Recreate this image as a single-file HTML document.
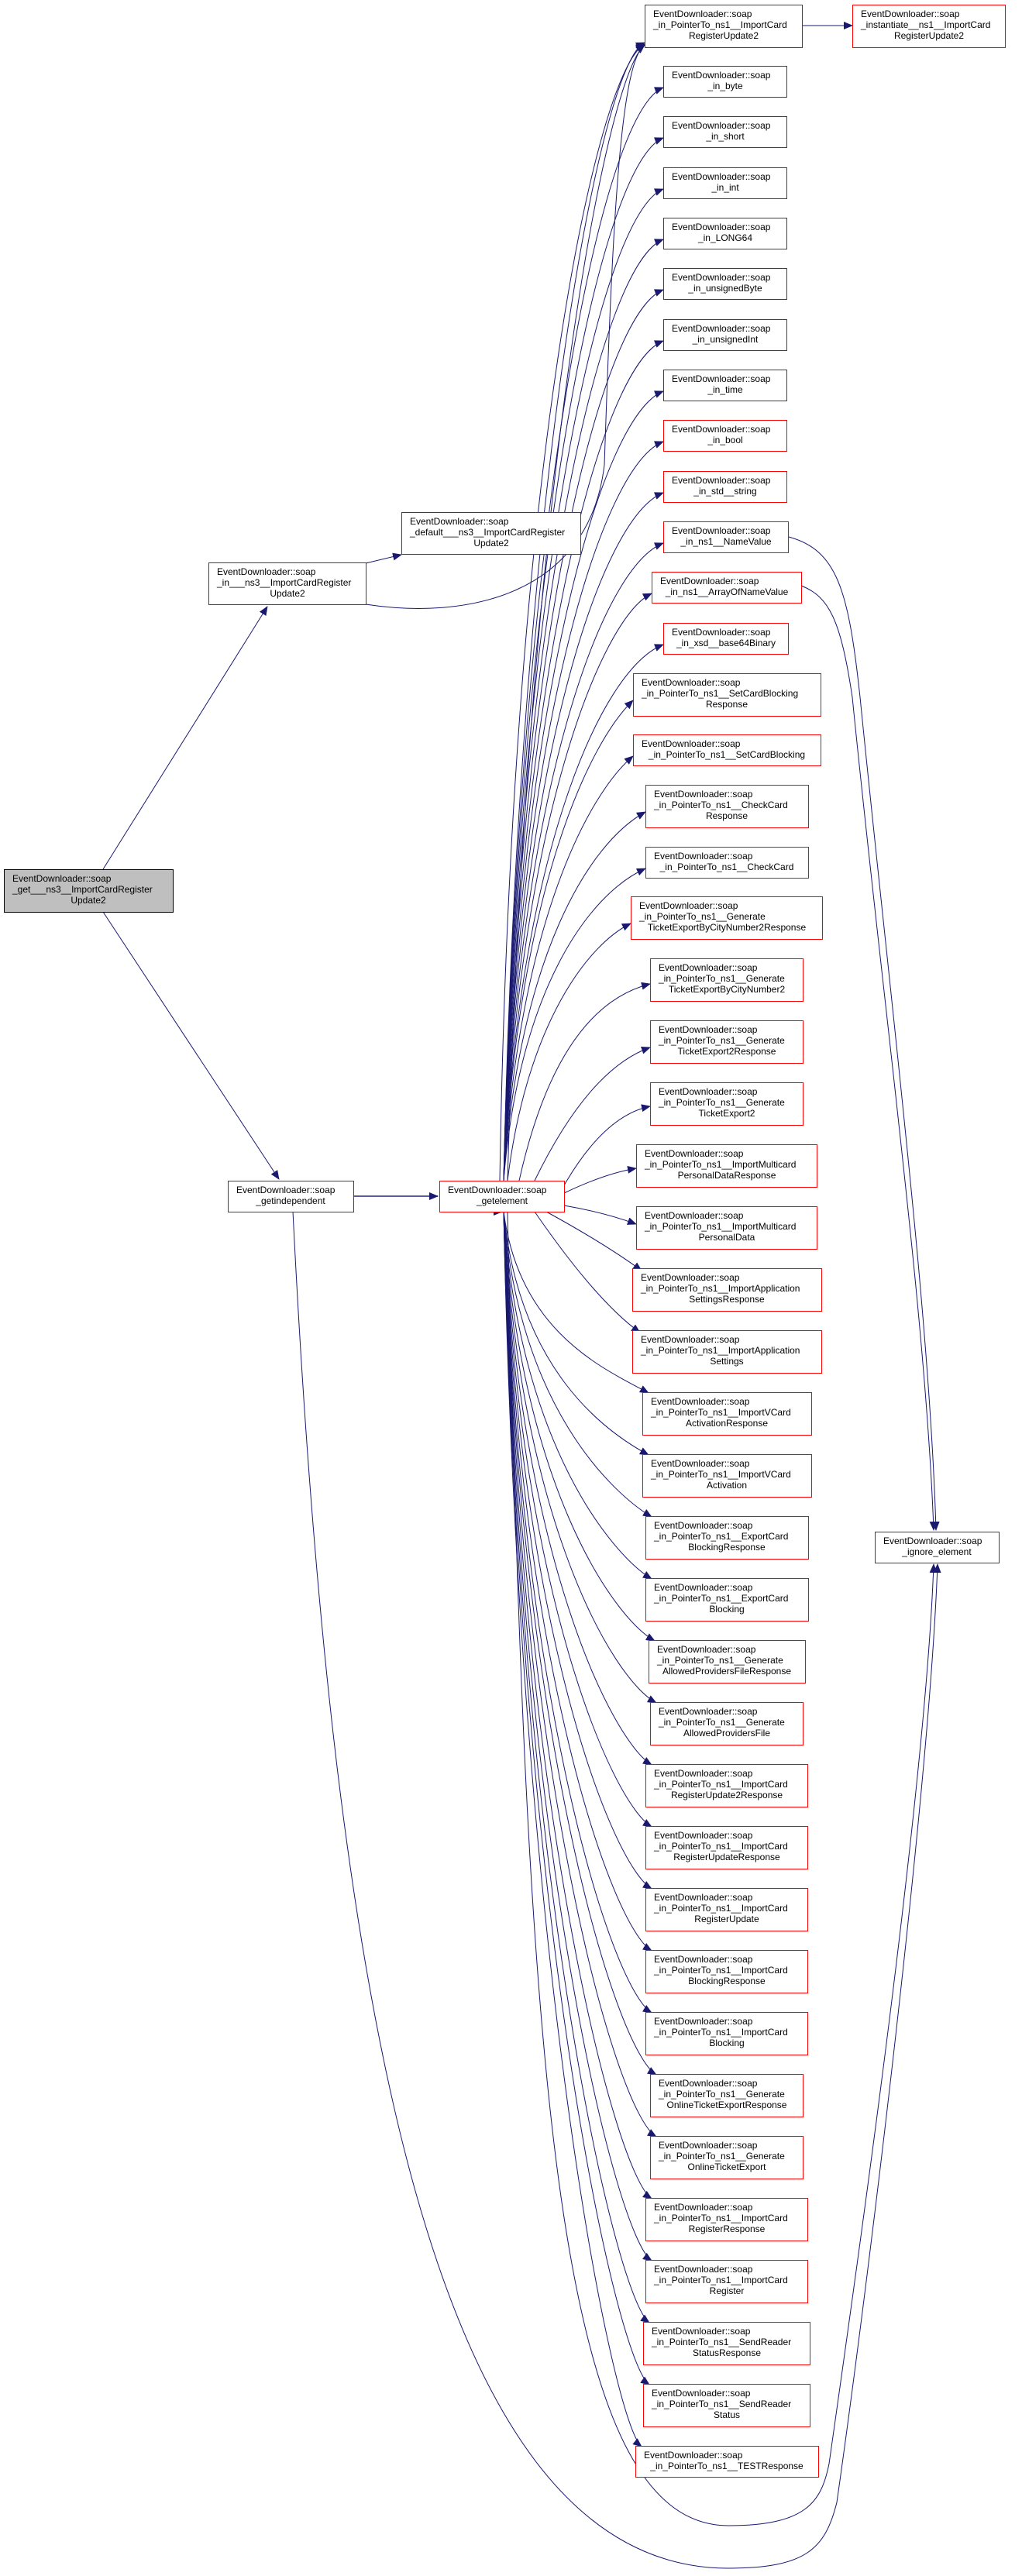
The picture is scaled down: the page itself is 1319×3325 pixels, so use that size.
<!DOCTYPE html>
<html><head><meta charset="utf-8"><style>
html,body{margin:0;padding:0;background:#fff;}
svg{display:block;}
text{font-family:"Liberation Sans",sans-serif;font-size:12px;fill:#000;}
.m{text-anchor:middle;}
.b{fill:#fff;stroke:#404040;stroke-width:1;}
.r{fill:#fff;stroke:#ff0000;stroke-width:1;}
.e{fill:none;stroke:#191970;stroke-width:1;marker-end:url(#a);}
.n{fill:none;stroke:#191970;stroke-width:1;}
</style></head><body>
<svg width="1319" height="3325" viewBox="0 0 1319 3325" xmlns="http://www.w3.org/2000/svg">
<defs><marker id="a" markerWidth="12" markerHeight="10" refX="11" refY="5" orient="auto" markerUnits="userSpaceOnUse"><path d="M0,0 L12,5 L0,10z" fill="#191970"/></marker></defs>

<!-- edges -->
<path class="e" d="M133,1122 L345,783"/>
<path class="e" d="M133,1177 L360,1522"/>
<path class="e" d="M472,727 L518,716"/>
<path class="e" d="M472,780 C600,800 760,770 780,600 C790,300 800,80 832,58"/>
<path d="M456,1544 L565,1544" fill="none" stroke="#5a5a9e" stroke-width="2" marker-end="url(#a)"/>
<path class="e" d="M1035,33 L1100,33"/>

<path class="e" d="M650,1524 C670,629 775,80 832,55"/>
<path class="e" d="M645,1524 C660,600 770,90 832,57"/>
<path class="e" d="M655,1524 C680,650 780,100 832,58"/>
<path class="e" d="M650,1524 C670,672 775,145 856,113"/>
<path class="e" d="M650,1524 C670,712 775,210 856,178"/>
<path class="e" d="M650,1524 C670,751 775,276 856,244"/>
<path class="e" d="M650,1524 C670,790 775,341 856,309"/>
<path class="e" d="M650,1524 C670,829 775,406 856,374"/>
<path class="e" d="M650,1524 C670,869 775,472 856,440"/>
<path class="e" d="M650,1524 C670,908 775,537 856,505"/>
<path class="e" d="M650,1524 C670,947 775,602 856,570"/>
<path class="e" d="M650,1524 C670,986 775,668 856,636"/>
<path class="e" d="M650,1524 C670,1025 775,733 856,701"/>
<path class="e" d="M650,1524 C670,1064 775,798 841,766"/>
<path class="e" d="M650,1524 C670,1104 775,864 856,832"/>
<path class="e" d="M650,1524 C670,1147 760,959 817,904"/>
<path class="e" d="M650,1524 C670,1190 760,1024 817,976"/>
<path class="e" d="M650,1524 C670,1234 760,1088 833,1048"/>
<path class="e" d="M650,1524 C670,1277 760,1154 833,1121"/>
<path class="e" d="M655,1524 C680,1320 760,1218 814,1192"/>
<path class="e" d="M670,1524 Q720,1300 839,1270"/>
<path class="e" d="M690,1524 Q760,1380 839,1352"/>
<path class="e" d="M728,1530 Q780,1440 839,1428"/>
<path class="e" d="M728,1540 Q780,1515 821,1508"/>
<path class="e" d="M728,1556 Q780,1565 821,1580"/>
<path class="e" d="M705,1564 Q780,1605 828,1640"/>
<path class="e" d="M690,1564 Q770,1680 826,1720"/>
<path class="e" d="M650,1564 C670,1720 780,1767 837,1798"/>
<path class="e" d="M650,1564 C670,1768 780,1847 837,1878"/>
<path class="e" d="M650,1564 C670,1816 790,1927 841,1958"/>
<path class="e" d="M650,1564 C670,1864 790,2007 841,2038"/>
<path class="e" d="M650,1564 C670,1912 790,2087 845,2118"/>
<path class="e" d="M650,1564 C670,1960 790,2167 847,2198"/>
<path class="e" d="M650,1564 C670,2008 790,2247 841,2278"/>
<path class="e" d="M650,1564 C670,2056 790,2327 841,2358"/>
<path class="e" d="M650,1564 C670,2104 790,2407 841,2438"/>
<path class="e" d="M650,1564 C670,2152 790,2487 841,2518"/>
<path class="e" d="M650,1564 C670,2200 790,2567 841,2598"/>
<path class="e" d="M650,1564 C670,2248 795,2647 847,2678"/>
<path class="e" d="M650,1564 C670,2296 795,2727 847,2758"/>
<path class="e" d="M650,1564 C670,2344 795,2807 841,2838"/>
<path class="e" d="M650,1564 C670,2392 795,2887 841,2918"/>
<path class="e" d="M650,1564 C670,2440 795,2967 838,2998"/>
<path class="e" d="M650,1564 C670,2488 795,3047 838,3078"/>
<path class="e" d="M650,1564 C670,2532 790,3127 828,3158"/>
<path class="e" d="M648,1564 L648,1564"/>

<path class="e" d="M1018,693 C1080,710 1095,760 1110,900 C1150,1300 1200,1700 1208,1975"/>
<path class="e" d="M1034,756 C1070,770 1085,800 1100,900 C1140,1300 1195,1700 1205,1975"/>
<path class="e" d="M655,1564 C680,2700 720,3260 940,3260 C1040,3260 1060,3230 1070,3180 C1110,2900 1195,2300 1205,2019"/>
<path class="e" d="M378,1564 C430,2600 560,3315 940,3315 C1040,3315 1065,3290 1080,3230 C1120,2950 1200,2300 1210,2019"/>

<!-- left nodes -->
<rect x="5.5" y="1122.5" width="218" height="55" fill="#bfbfbf" stroke="#000"/>
<text x="16" y="1138">EventDownloader::soap</text>
<text x="16" y="1152">_get___ns3__ImportCardRegister</text>
<text class="m" x="114" y="1166">Update2</text>

<rect class="b" x="269.5" y="726.5" width="203" height="54"/>
<text x="280" y="742">EventDownloader::soap</text>
<text x="280" y="756">_in___ns3__ImportCardRegister</text>
<text class="m" x="371" y="770">Update2</text>

<rect class="b" x="518.5" y="661.5" width="231" height="54"/>
<text x="529" y="677">EventDownloader::soap</text>
<text x="529" y="691">_default___ns3__ImportCardRegister</text>
<text class="m" x="634" y="705">Update2</text>

<rect class="b" x="294.5" y="1524.5" width="162" height="40"/>
<text x="305" y="1540">EventDownloader::soap</text>
<text class="m" x="375" y="1554">_getindependent</text>

<rect class="r" x="567.5" y="1524.5" width="161" height="40"/>
<text x="578" y="1540">EventDownloader::soap</text>
<text class="m" x="648" y="1554">_getelement</text>

<rect class="r" x="1100.5" y="6.5" width="197" height="55"/>
<text x="1111" y="22">EventDownloader::soap</text>
<text x="1111" y="36">_instantiate__ns1__ImportCard</text>
<text class="m" x="1199" y="50">RegisterUpdate2</text>

<rect class="b" x="1129.5" y="1977.5" width="160" height="40"/>
<text x="1140" y="1993">EventDownloader::soap</text>
<text class="m" x="1209" y="2007">_ignore_element</text>

<!-- right column -->
<rect class="b" x="832.5" y="6.5" width="203" height="55"/>
<text x="843" y="22">EventDownloader::soap</text>
<text x="843" y="36">_in_PointerTo_ns1__ImportCard</text>
<text class="m" x="934" y="50">RegisterUpdate2</text>

<rect class="b" x="856.5" y="85.5" width="159" height="40"/>
<text x="867" y="101">EventDownloader::soap</text>
<text class="m" x="936" y="115">_in_byte</text>

<rect class="b" x="856.5" y="150.5" width="159" height="40"/>
<text x="867" y="166">EventDownloader::soap</text>
<text class="m" x="936" y="180">_in_short</text>

<rect class="b" x="856.5" y="216.5" width="159" height="40"/>
<text x="867" y="232">EventDownloader::soap</text>
<text class="m" x="936" y="246">_in_int</text>

<rect class="b" x="856.5" y="281.5" width="159" height="40"/>
<text x="867" y="297">EventDownloader::soap</text>
<text class="m" x="936" y="311">_in_LONG64</text>

<rect class="b" x="856.5" y="346.5" width="159" height="40"/>
<text x="867" y="362">EventDownloader::soap</text>
<text class="m" x="936" y="376">_in_unsignedByte</text>

<rect class="b" x="856.5" y="412.5" width="159" height="40"/>
<text x="867" y="428">EventDownloader::soap</text>
<text class="m" x="936" y="442">_in_unsignedInt</text>

<rect class="b" x="856.5" y="477.5" width="159" height="40"/>
<text x="867" y="493">EventDownloader::soap</text>
<text class="m" x="936" y="507">_in_time</text>

<rect class="r" x="856.5" y="542.5" width="159" height="40"/>
<text x="867" y="558">EventDownloader::soap</text>
<text class="m" x="936" y="572">_in_bool</text>

<rect class="r" x="856.5" y="608.5" width="159" height="40"/>
<text x="867" y="624">EventDownloader::soap</text>
<text class="m" x="936" y="638">_in_std__string</text>

<rect class="r" x="856.5" y="673.5" width="161" height="40"/>
<text x="867" y="689">EventDownloader::soap</text>
<text class="m" x="937" y="703">_in_ns1__NameValue</text>

<rect class="r" x="841.5" y="738.5" width="193" height="40"/>
<text x="852" y="754">EventDownloader::soap</text>
<text class="m" x="938" y="768">_in_ns1__ArrayOfNameValue</text>

<rect class="r" x="856.5" y="804.5" width="161" height="40"/>
<text x="867" y="820">EventDownloader::soap</text>
<text class="m" x="937" y="834">_in_xsd__base64Binary</text>

<rect class="r" x="817.5" y="869.5" width="242" height="55"/>
<text x="828" y="885">EventDownloader::soap</text>
<text x="828" y="899">_in_PointerTo_ns1__SetCardBlocking</text>
<text class="m" x="938" y="913">Response</text>

<rect class="r" x="817.5" y="948.5" width="242" height="40"/>
<text x="828" y="964">EventDownloader::soap</text>
<text class="m" x="938" y="978">_in_PointerTo_ns1__SetCardBlocking</text>

<rect class="r" x="833.5" y="1013.5" width="210" height="55"/>
<text x="844" y="1029">EventDownloader::soap</text>
<text x="844" y="1043">_in_PointerTo_ns1__CheckCard</text>
<text class="m" x="938" y="1057">Response</text>

<rect class="r" x="833.5" y="1093.5" width="210" height="40"/>
<text x="844" y="1109">EventDownloader::soap</text>
<text class="m" x="938" y="1123">_in_PointerTo_ns1__CheckCard</text>

<rect class="r" x="814.5" y="1157.5" width="247" height="55"/>
<text x="825" y="1173">EventDownloader::soap</text>
<text x="825" y="1187">_in_PointerTo_ns1__Generate</text>
<text class="m" x="938" y="1201">TicketExportByCityNumber2Response</text>

<rect class="r" x="839.5" y="1237.5" width="197" height="55"/>
<text x="850" y="1253">EventDownloader::soap</text>
<text x="850" y="1267">_in_PointerTo_ns1__Generate</text>
<text class="m" x="938" y="1281">TicketExportByCityNumber2</text>

<rect class="r" x="839.5" y="1317.5" width="197" height="55"/>
<text x="850" y="1333">EventDownloader::soap</text>
<text x="850" y="1347">_in_PointerTo_ns1__Generate</text>
<text class="m" x="938" y="1361">TicketExport2Response</text>

<rect class="r" x="839.5" y="1397.5" width="197" height="55"/>
<text x="850" y="1413">EventDownloader::soap</text>
<text x="850" y="1427">_in_PointerTo_ns1__Generate</text>
<text class="m" x="938" y="1441">TicketExport2</text>

<rect class="r" x="821.5" y="1477.5" width="233" height="55"/>
<text x="832" y="1493">EventDownloader::soap</text>
<text x="832" y="1507">_in_PointerTo_ns1__ImportMulticard</text>
<text class="m" x="938" y="1521">PersonalDataResponse</text>

<rect class="r" x="821.5" y="1557.5" width="233" height="55"/>
<text x="832" y="1573">EventDownloader::soap</text>
<text x="832" y="1587">_in_PointerTo_ns1__ImportMulticard</text>
<text class="m" x="938" y="1601">PersonalData</text>

<rect class="r" x="816.5" y="1637.5" width="244" height="55"/>
<text x="827" y="1653">EventDownloader::soap</text>
<text x="827" y="1667">_in_PointerTo_ns1__ImportApplication</text>
<text class="m" x="938" y="1681">SettingsResponse</text>

<rect class="r" x="816.5" y="1717.5" width="244" height="55"/>
<text x="827" y="1733">EventDownloader::soap</text>
<text x="827" y="1747">_in_PointerTo_ns1__ImportApplication</text>
<text class="m" x="938" y="1761">Settings</text>

<rect class="r" x="829.5" y="1797.5" width="218" height="55"/>
<text x="840" y="1813">EventDownloader::soap</text>
<text x="840" y="1827">_in_PointerTo_ns1__ImportVCard</text>
<text class="m" x="938" y="1841">ActivationResponse</text>

<rect class="r" x="829.5" y="1877.5" width="218" height="55"/>
<text x="840" y="1893">EventDownloader::soap</text>
<text x="840" y="1907">_in_PointerTo_ns1__ImportVCard</text>
<text class="m" x="938" y="1921">Activation</text>

<rect class="r" x="833.5" y="1957.5" width="210" height="55"/>
<text x="844" y="1973">EventDownloader::soap</text>
<text x="844" y="1987">_in_PointerTo_ns1__ExportCard</text>
<text class="m" x="938" y="2001">BlockingResponse</text>

<rect class="r" x="833.5" y="2037.5" width="210" height="55"/>
<text x="844" y="2053">EventDownloader::soap</text>
<text x="844" y="2067">_in_PointerTo_ns1__ExportCard</text>
<text class="m" x="938" y="2081">Blocking</text>

<rect class="r" x="837.5" y="2117.5" width="202" height="55"/>
<text x="848" y="2133">EventDownloader::soap</text>
<text x="848" y="2147">_in_PointerTo_ns1__Generate</text>
<text class="m" x="938" y="2161">AllowedProvidersFileResponse</text>

<rect class="r" x="839.5" y="2197.5" width="197" height="55"/>
<text x="850" y="2213">EventDownloader::soap</text>
<text x="850" y="2227">_in_PointerTo_ns1__Generate</text>
<text class="m" x="938" y="2241">AllowedProvidersFile</text>

<rect class="r" x="833.5" y="2277.5" width="209" height="55"/>
<text x="844" y="2293">EventDownloader::soap</text>
<text x="844" y="2307">_in_PointerTo_ns1__ImportCard</text>
<text class="m" x="938" y="2321">RegisterUpdate2Response</text>

<rect class="r" x="833.5" y="2357.5" width="209" height="55"/>
<text x="844" y="2373">EventDownloader::soap</text>
<text x="844" y="2387">_in_PointerTo_ns1__ImportCard</text>
<text class="m" x="938" y="2401">RegisterUpdateResponse</text>

<rect class="r" x="833.5" y="2437.5" width="209" height="55"/>
<text x="844" y="2453">EventDownloader::soap</text>
<text x="844" y="2467">_in_PointerTo_ns1__ImportCard</text>
<text class="m" x="938" y="2481">RegisterUpdate</text>

<rect class="r" x="833.5" y="2517.5" width="209" height="55"/>
<text x="844" y="2533">EventDownloader::soap</text>
<text x="844" y="2547">_in_PointerTo_ns1__ImportCard</text>
<text class="m" x="938" y="2561">BlockingResponse</text>

<rect class="r" x="833.5" y="2597.5" width="209" height="55"/>
<text x="844" y="2613">EventDownloader::soap</text>
<text x="844" y="2627">_in_PointerTo_ns1__ImportCard</text>
<text class="m" x="938" y="2641">Blocking</text>

<rect class="r" x="839.5" y="2677.5" width="197" height="55"/>
<text x="850" y="2693">EventDownloader::soap</text>
<text x="850" y="2707">_in_PointerTo_ns1__Generate</text>
<text class="m" x="938" y="2721">OnlineTicketExportResponse</text>

<rect class="r" x="839.5" y="2757.5" width="197" height="55"/>
<text x="850" y="2773">EventDownloader::soap</text>
<text x="850" y="2787">_in_PointerTo_ns1__Generate</text>
<text class="m" x="938" y="2801">OnlineTicketExport</text>

<rect class="r" x="833.5" y="2837.5" width="209" height="55"/>
<text x="844" y="2853">EventDownloader::soap</text>
<text x="844" y="2867">_in_PointerTo_ns1__ImportCard</text>
<text class="m" x="938" y="2881">RegisterResponse</text>

<rect class="r" x="833.5" y="2917.5" width="209" height="55"/>
<text x="844" y="2933">EventDownloader::soap</text>
<text x="844" y="2947">_in_PointerTo_ns1__ImportCard</text>
<text class="m" x="938" y="2961">Register</text>

<rect class="r" x="830.5" y="2997.5" width="215" height="55"/>
<text x="841" y="3013">EventDownloader::soap</text>
<text x="841" y="3027">_in_PointerTo_ns1__SendReader</text>
<text class="m" x="938" y="3041">StatusResponse</text>

<rect class="r" x="830.5" y="3077.5" width="215" height="55"/>
<text x="841" y="3093">EventDownloader::soap</text>
<text x="841" y="3107">_in_PointerTo_ns1__SendReader</text>
<text class="m" x="938" y="3121">Status</text>

<rect class="r" x="820.5" y="3157.5" width="236" height="40"/>
<text x="831" y="3173">EventDownloader::soap</text>
<text class="m" x="938" y="3187">_in_PointerTo_ns1__TESTResponse</text>
</svg>
</body></html>
